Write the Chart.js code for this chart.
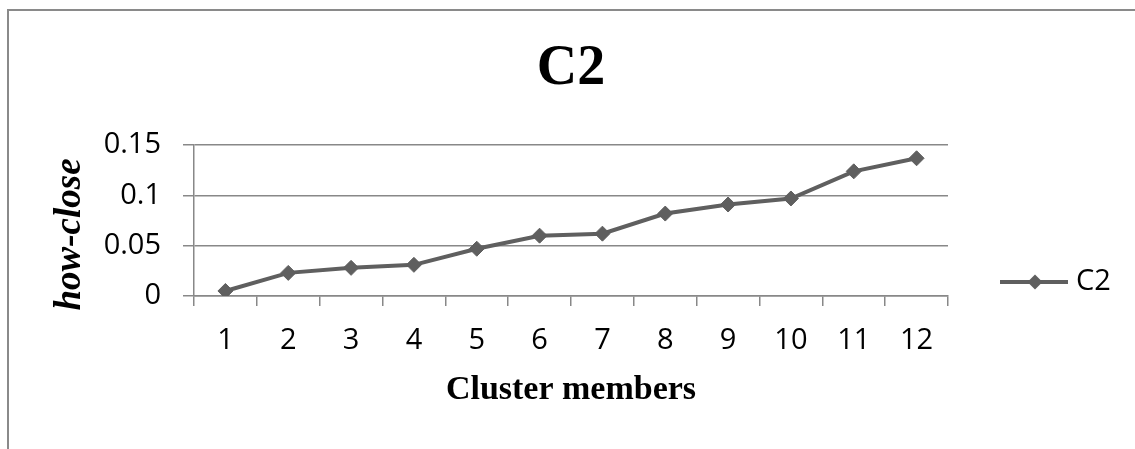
<!DOCTYPE html>
<html>
<head>
<meta charset="utf-8">
<script src="https://cdn.jsdelivr.net/npm/chart.js@4.4.0/dist/chart.umd.min.js"></script>
<style>
  body { margin: 0; background: #fff; }
  #wrap { position: relative; width: 1135px; height: 449px; overflow: hidden; }
  #frame { position: absolute; left: 7px; top: 9px; width: 1200px; height: 600px;
           border-left: 2px solid #8a8a8a; border-top: 2px solid #8a8a8a; }
  canvas { position: absolute; left: 0; top: 0; }
</style>
</head>
<body>
<div id="wrap">
  <div id="frame"></div>
  <canvas id="c2Chart" width="1135" height="449"></canvas>
</div>
<script>
// data
const members = ['1', '2', '3', '4', '5', '6', '7', '8', '9', '10', '11', '12'];
const c2Values = [0.005, 0.023, 0.028, 0.031, 0.047, 0.060, 0.062, 0.082, 0.091, 0.097, 0.124, 0.137];
const yTickValues = [0, 0.05, 0.1, 0.15];
const yTickLabels = ['0', '0.05', '0.1', '0.15'];

const lineGrey = '#5f5f5f';
const gridGrey = '#888888';
const tickFont = { family: '"Open Sans", sans-serif', size: 29 };

// legend drawn like the Excel one: a line with a diamond on it
const legendLine = {
    id: 'legendLine',
    afterDraw(chart) {
        const ctx = chart.ctx;
        const ds = chart.data.datasets[0];
        const y = 282;
        ctx.save();
        ctx.strokeStyle = ds.borderColor;
        ctx.lineWidth = ds.borderWidth;
        ctx.beginPath();
        ctx.moveTo(1000, y);
        ctx.lineTo(1068, y);
        ctx.stroke();
        ctx.fillStyle = ds.pointBackgroundColor;
        ctx.strokeStyle = ds.pointBorderColor;
        ctx.lineWidth = ds.pointBorderWidth;
        Chart.helpers.drawPoint(ctx, { pointStyle: 'rectRot', radius: ds.pointRadius, rotation: 0 }, 1035, y);
        ctx.fillStyle = '#000';
        ctx.font = '29px "Open Sans", sans-serif';
        ctx.textBaseline = 'middle';
        ctx.fillText(ds.label, 1076, y);
        ctx.restore();
    }
};

const ctx = document.getElementById('c2Chart').getContext('2d');
const chart = new Chart(ctx, {
    type: 'line',
    data: {
        labels: members,
        datasets: [{
            label: 'C2',
            data: c2Values,
            borderColor: lineGrey,
            borderWidth: 4,
            pointStyle: 'rectRot',
            pointRadius: 7.5,
            pointBackgroundColor: lineGrey,
            pointBorderColor: lineGrey,
            pointBorderWidth: 1,
            tension: 0
        }]
    },
    options: {
        responsive: false,
        devicePixelRatio: 1,
        animation: false,
        layout: { padding: { left: 40, right: 187, top: 10, bottom: 0 } },
        plugins: {
            legend: { display: false },
            tooltip: { enabled: false },
            title: {
                display: true,
                text: 'C2',
                fullSize: false,
                color: '#000',
                font: { family: '"Liberation Serif", serif', size: 56, weight: 'bold' },
                padding: { top: 26, bottom: 42 }
            }
        },
        scales: {
            x: {
                offset: true,
                afterFit: s => { s.height = 449 - 296; },
                grid: { offset: true, drawOnChartArea: false, color: gridGrey, lineWidth: 1.5, tickLength: 10 },
                border: { color: gridGrey, width: 1.5 },
                ticks: { color: '#000', font: tickFont, padding: 17, maxRotation: 0, autoSkip: false },
                title: {
                    display: true,
                    text: 'Cluster members',
                    color: '#000',
                    font: { family: '"Liberation Serif", serif', size: 34, weight: 'bold' },
                    padding: { top: 0, bottom: 38 }
                }
            },
            y: {
                min: 0,
                max: 0.15,
                afterFit: s => { s.width = 194 - 40; },
                afterBuildTicks: s => { s.ticks = yTickValues.map(v => ({ value: v })); },
                grid: { color: gridGrey, lineWidth: 1.5, tickLength: 11 },
                border: { color: gridGrey, width: 1.5 },
                ticks: {
                    color: '#000',
                    font: tickFont,
                    padding: 22,
                    callback: (v, i) => yTickLabels[i]
                },
                title: {
                    display: true,
                    // trailing spaces nudge the rotated title down, as in the original
                    text: 'how-close   ',
                    color: '#000',
                    font: { family: '"Liberation Serif", serif', size: 37, weight: 'bold', style: 'italic' },
                    padding: { top: 8, bottom: 0 }
                }
            }
        }
    },
    plugins: [legendLine]
});
</script>
</body>
</html>
